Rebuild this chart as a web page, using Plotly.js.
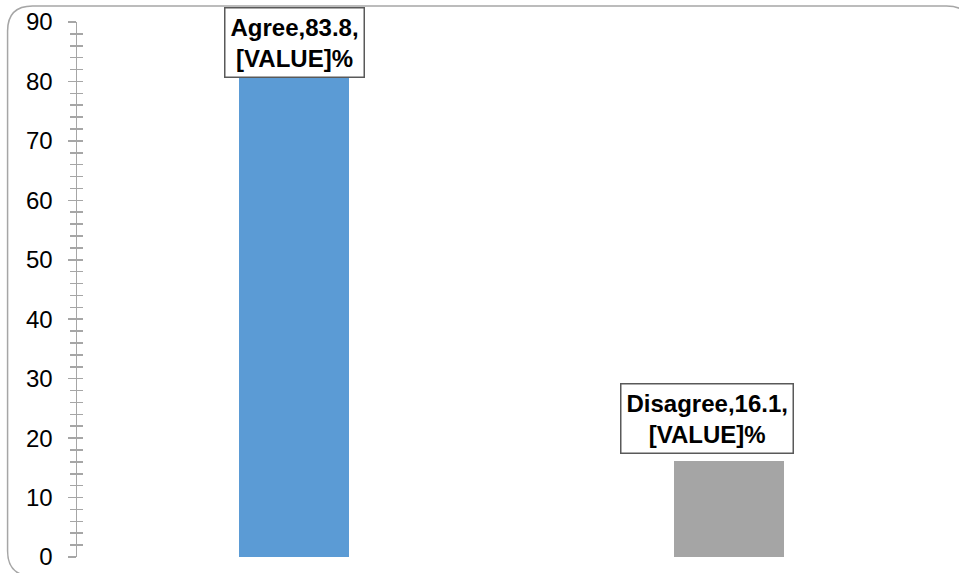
<!DOCTYPE html>
<html>
<head>
<meta charset="utf-8">
<script src="https://cdn.plot.ly/plotly-3.0.1.min.js"></script>
<style>html,body{margin:0;padding:0;background:#fff;}#chart{width:959px;height:573px;}</style>
</head>
<body>
<div id="chart"></div>
<script>
const categories = ["Agree", "Disagree"];
const values = [83.8, 16.1];
const barColors = ["#5B9BD5", "#A5A5A5"];
const yTickVals = [0, 10, 20, 30, 40, 50, 60, 70, 80, 90];

// plot-area geometry (pixels) used only for the decorative frame
const L = 76.5, R = 946.5, T = 22, B = 557;
const W = 959, H = 573;
const px = x => (x - L) / (R - L);
const py = y => (B - y) / (B - T);
const r = 25, x0 = 7, y0 = 6, x1 = 972, y1 = 576;
const framePath =
  `M ${px(x0)},${py(y1 - r)} L ${px(x0)},${py(y0 + r)} Q ${px(x0)},${py(y0)} ${px(x0 + r)},${py(y0)} ` +
  `L ${px(x1 - r)},${py(y0)} Q ${px(x1)},${py(y0)} ${px(x1)},${py(y0 + r)} ` +
  `L ${px(x1)},${py(y1 - r)} Q ${px(x1)},${py(y1)} ${px(x1 - r)},${py(y1)} ` +
  `L ${px(x0 + r)},${py(y1)} Q ${px(x0)},${py(y1)} ${px(x0)},${py(y1 - r)} Z`;

const labelShift = [{xs: 0, ys: 16}, {xs: -21.5, ys: 43}];

const trace = {
  type: "bar",
  x: categories,
  y: values,
  width: 0.253,
  marker: {color: barColors},
  hoverinfo: "none"
};

const annotations = categories.map((c, i) => ({
  x: c, y: values[i], xref: "x", yref: "y",
  text: `<b>${c},${values[i]},</b><br><b>[VALUE]%</b>`,
  showarrow: false,
  xanchor: "center", yanchor: "middle",
  xshift: labelShift[i].xs, yshift: labelShift[i].ys,
  font: {family: "Liberation Sans", size: 24, color: "#000"},
  bgcolor: "#ffffff",
  bordercolor: "#595959",
  borderwidth: 1.5,
  borderpad: 5
}));

const layout = {
  width: W, height: H,
  margin: {l: L, r: W - R, t: T, b: H - B, pad: 0},
  paper_bgcolor: "#ffffff",
  plot_bgcolor: "#ffffff",
  showlegend: false,
  bargap: 0,
  font: {family: "Liberation Sans", color: "#000"},
  xaxis: {
    type: "category",
    range: [-0.5, 1.5],
    showticklabels: false, showline: false, showgrid: false, zeroline: false, ticks: ""
  },
  yaxis: {
    range: [0, 90],
    tickmode: "array", tickvals: yTickVals, ticktext: yTickVals.map(String),
    ticks: "outside", ticklen: 8, tickwidth: 1.5, tickcolor: "#a6a6a6",
    minor: {dtick: 2, ticks: "outside", ticklen: 6, tickwidth: 1.5, tickcolor: "#a6a6a6", showgrid: false},
    showline: true, linecolor: "#a6a6a6", linewidth: 1.5,
    showgrid: false, zeroline: false,
    tickfont: {family: "Liberation Sans", size: 24, color: "#000"},
    ticklabelstandoff: 10
  },
  yaxis2: {
    overlaying: "y", anchor: "x", side: "left",
    range: [0, 90],
    tickmode: "array", tickvals: yTickVals,
    ticks: "inside", ticklen: 6, tickwidth: 1.5, tickcolor: "#a6a6a6",
    minor: {dtick: 2, ticks: "inside", ticklen: 6, tickwidth: 1.5, tickcolor: "#a6a6a6", showgrid: false},
    showticklabels: false, showline: false, showgrid: false, zeroline: false
  },
  shapes: [{
    type: "path", xref: "paper", yref: "paper", path: framePath,
    line: {color: "#a6a6a6", width: 1.5}, fillcolor: "rgba(0,0,0,0)", layer: "below"
  }],
  annotations: annotations
};

const dummy = {type: "scatter", x: categories, y: [null, null], yaxis: "y2", hoverinfo: "none", showlegend: false};

Plotly.newPlot("chart", [trace, dummy], layout, {staticPlot: true, displayModeBar: false});
</script>
</body>
</html>
